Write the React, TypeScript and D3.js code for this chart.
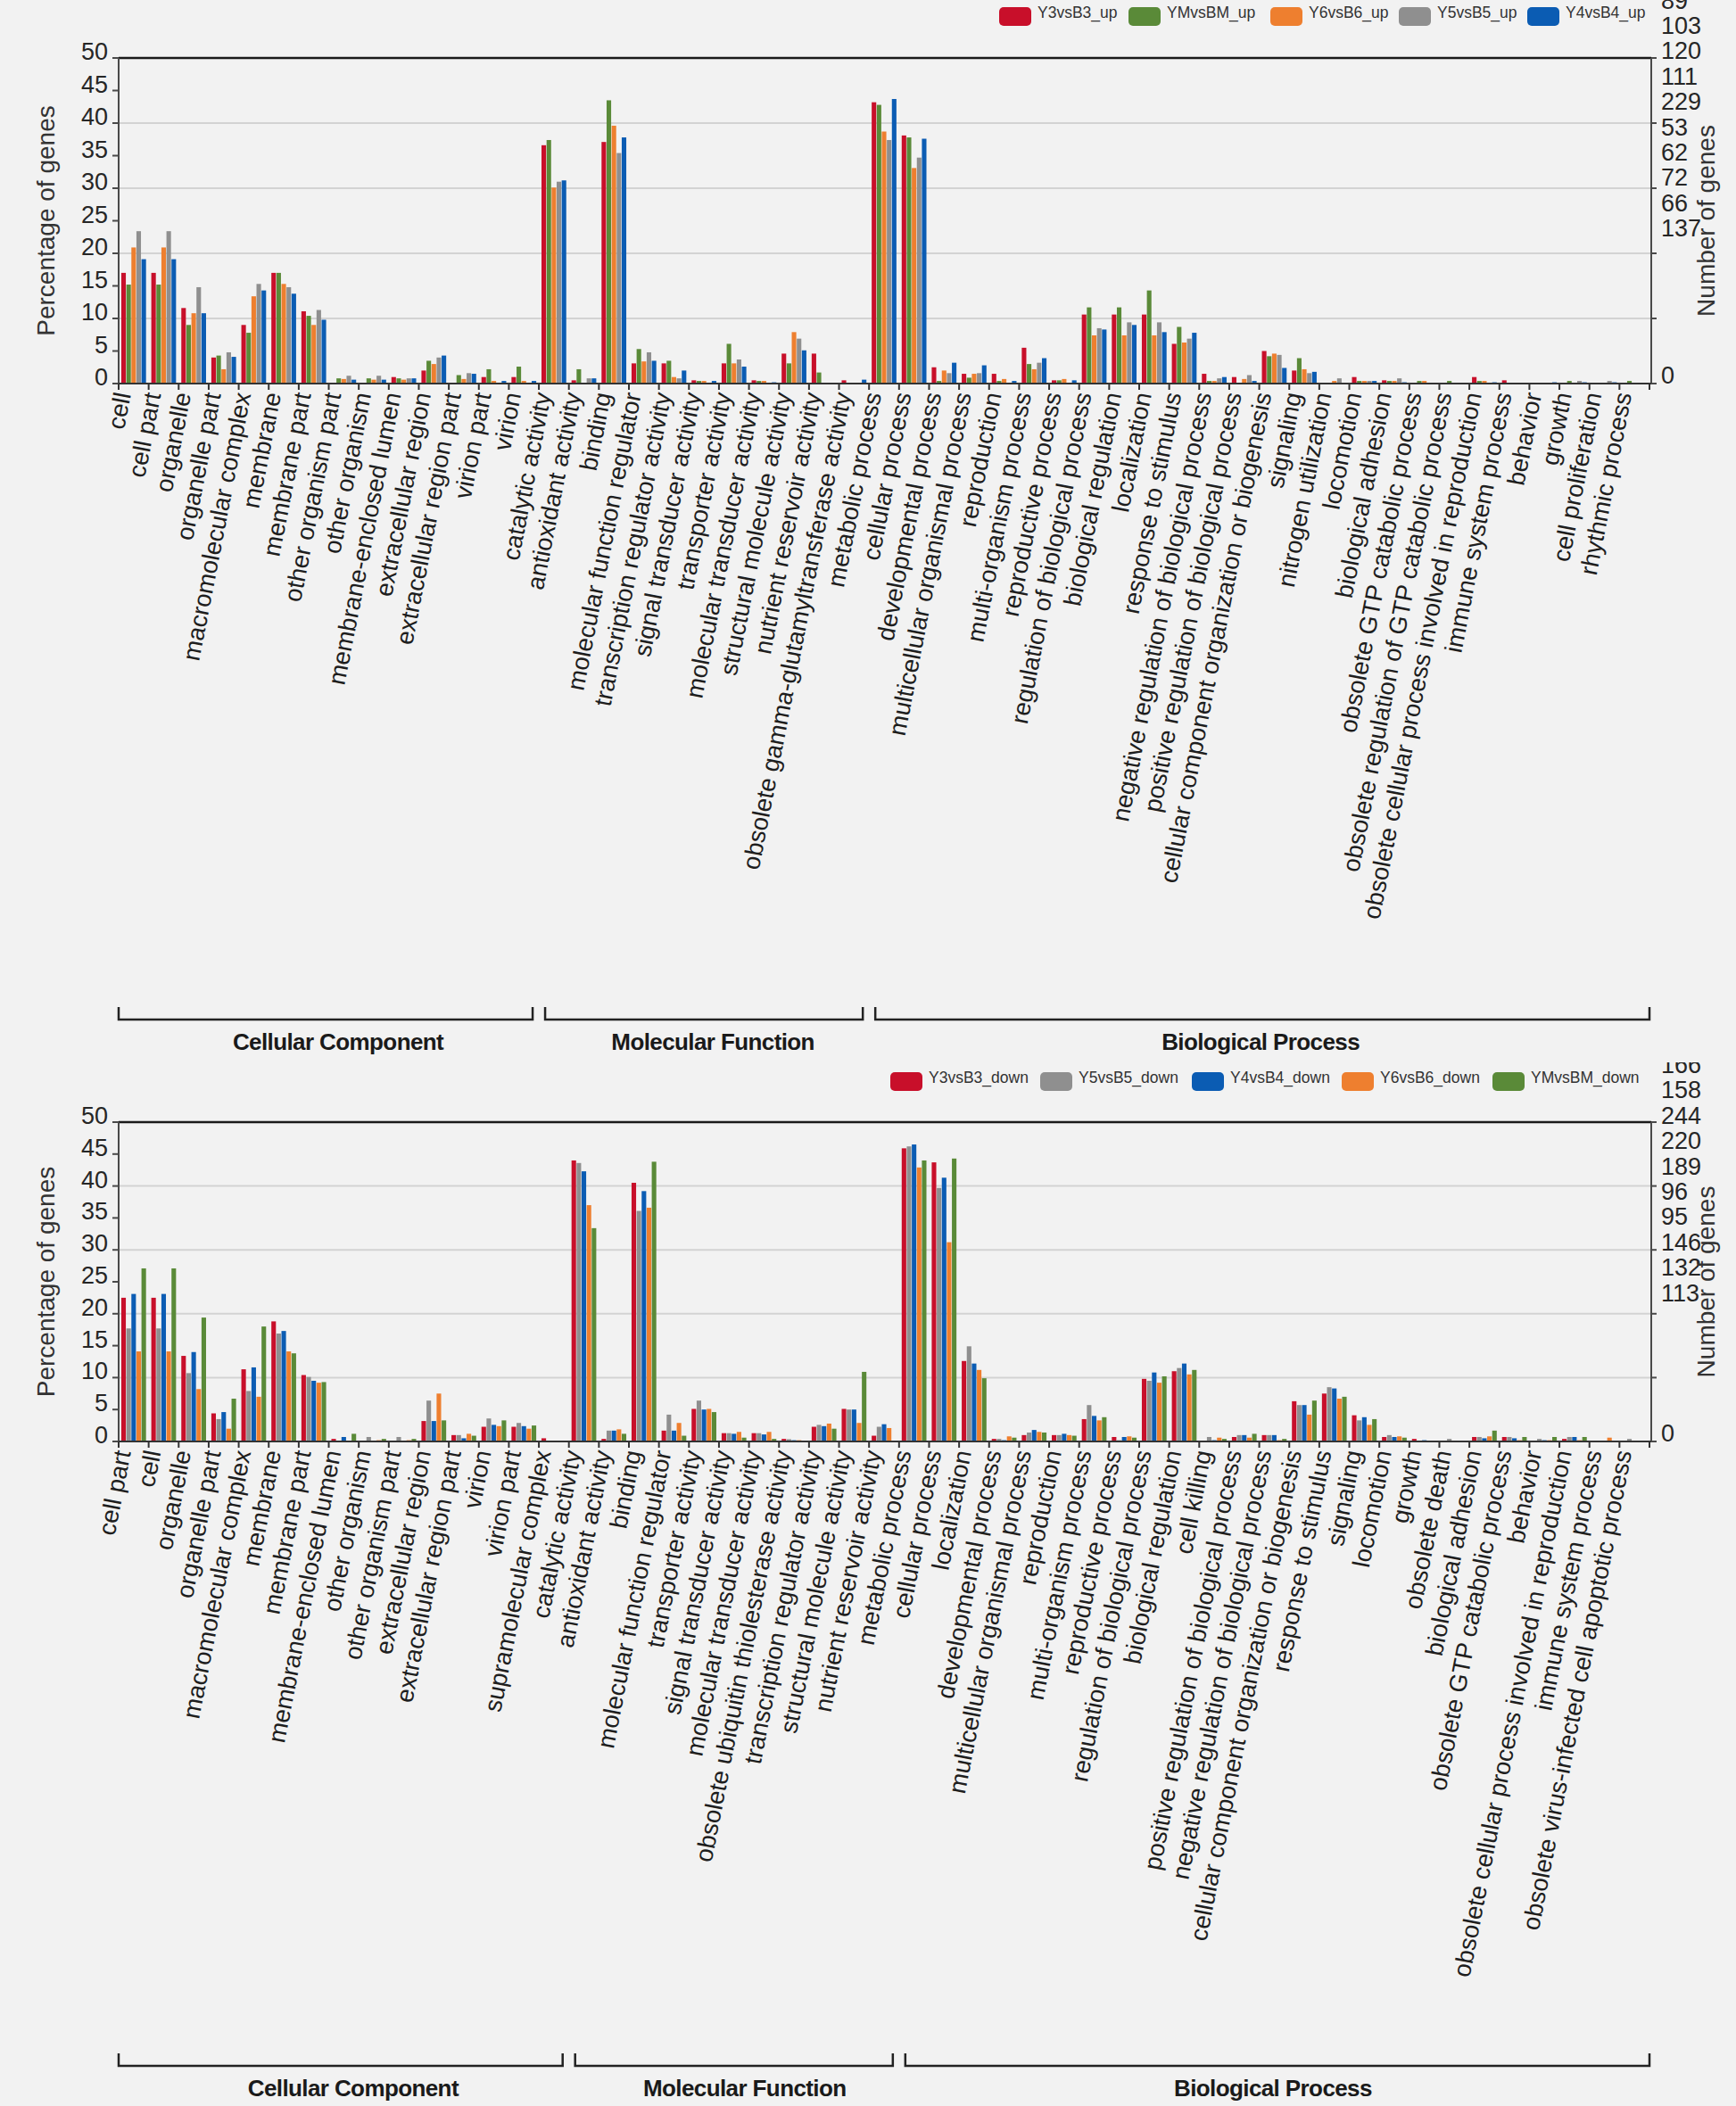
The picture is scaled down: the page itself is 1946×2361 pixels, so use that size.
import React from 'react';
import * as d3 from 'd3';

// ---- upper chart (up-regulated) ----
const upCategories = [
  'cell', 'cell part', 'organelle', 'organelle part', 'macromolecular complex', 'membrane',
  'membrane part', 'other organism part', 'other organism', 'membrane-enclosed lumen',
  'extracellular region', 'extracellular region part', 'virion part', 'virion',
  'catalytic activity', 'antioxidant activity', 'binding', 'molecular function regulator',
  'transcription regulator activity', 'signal transducer activity', 'transporter activity',
  'molecular transducer activity', 'structural molecule activity', 'nutrient reservoir activity',
  'obsolete gamma-glutamyltransferase activity',
  'metabolic process', 'cellular process', 'developmental process', 'multicellular organismal process',
  'reproduction', 'multi-organism process', 'reproductive process', 'regulation of biological process',
  'biological regulation', 'localization', 'response to stimulus',
  'negative regulation of biological process', 'positive regulation of biological process',
  'cellular component organization or biogenesis', 'signaling', 'nitrogen utilization', 'locomotion',
  'biological adhesion', 'obsolete GTP catabolic process', 'obsolete regulation of GTP catabolic process',
  'obsolete cellular process involved in reproduction', 'immune system process', 'behavior', 'growth',
  'cell proliferation', 'rhythmic process',
];
const upNames = ['Y3vsB3_up', 'YMvsBM_up', 'Y6vsB6_up', 'Y5vsB5_up', 'Y4vsB4_up'];
const y3vsB3Up = [17.0, 17.0, 11.6, 4.0, 9.0, 17.0, 11.1, 0, 0, 1.0, 2.0, 0, 1.0, 1.0,
  36.6, 0.5, 37.1, 3.1, 3.1, 0.5, 3.1, 0.5, 4.6, 4.6, 0.5,
  43.2, 38.1, 2.5, 1.5, 1.5, 5.5, 0.5, 10.6, 10.6, 10.6, 6.1, 1.5, 1.0, 5.0, 2.0, 0, 1.0, 0.5, 0, 0, 1.0, 0.5, 0, 0, 0, 0];
const ymvsBMUp = [15.2, 15.2, 9.0, 4.3, 7.8, 17.0, 10.4, 0.8, 0.8, 0.8, 3.5, 1.3, 2.2, 2.6,
  37.4, 2.2, 43.5, 5.3, 3.5, 0.4, 6.1, 0.4, 3.1, 1.7, 0,
  42.8, 37.8, 0.4, 0.9, 0.4, 3.0, 0.5, 11.7, 11.7, 14.3, 8.7, 0.4, 0, 4.2, 3.9, 0, 0.4, 0.4, 0.4, 0.4, 0.4, 0, 0, 0.4, 0, 0.4];
const y6vsB6Up = [20.9, 20.9, 10.8, 2.2, 13.4, 15.3, 9.0, 0.7, 0.6, 0.6, 3.0, 0.7, 0.4, 0.4,
  30.1, 0, 39.6, 3.4, 1.0, 0.4, 3.1, 0.4, 7.9, 0, 0,
  38.7, 33.1, 2.0, 1.5, 0.7, 2.2, 0.7, 7.4, 7.4, 7.4, 6.3, 0.4, 0.7, 4.6, 2.2, 0.4, 0.4, 0.4, 0.4, 0, 0.4, 0, 0, 0, 0, 0];
const y5vsB5Up = [23.4, 23.4, 14.8, 4.8, 15.3, 14.8, 11.3, 1.2, 1.2, 0.8, 4.0, 1.6, 0, 0,
  31.0, 0.8, 35.4, 4.8, 0.8, 0, 3.7, 0, 6.9, 0, 0,
  37.4, 34.7, 1.6, 1.6, 0, 3.2, 0, 8.5, 9.4, 9.4, 6.9, 0.8, 1.3, 4.4, 1.6, 0.8, 0.4, 0.8, 0, 0, 0, 0, 0, 0.4, 0.4, 0];
const y4vsB4Up = [19.1, 19.1, 10.8, 4.1, 14.3, 13.8, 9.8, 0.6, 0.6, 0.8, 4.3, 1.5, 0.4, 0.4,
  31.2, 0.8, 37.8, 3.5, 2.0, 0.4, 2.6, 0.2, 5.1, 0.1, 0.6,
  43.7, 37.6, 3.2, 2.8, 0.4, 3.9, 0.5, 8.3, 9.0, 7.9, 7.8, 1.0, 0.4, 2.4, 1.8, 0, 0.4, 0.2, 0, 0, 0.2, 0, 0.2, 0.2, 0.2, 0];
const upCountLabels = ['89', '103', '120', '111', '229', '53', '62', '72', '66', '137'];
const upGroupSizes = [14, 11, 26];

// ---- lower chart (down-regulated) ----
const downCategories = [
  'cell part', 'cell', 'organelle', 'organelle part', 'macromolecular complex', 'membrane',
  'membrane part', 'membrane-enclosed lumen', 'other organism', 'other organism part',
  'extracellular region', 'extracellular region part', 'virion', 'virion part', 'supramolecular complex',
  'catalytic activity', 'antioxidant activity', 'binding', 'molecular function regulator',
  'transporter activity', 'signal transducer activity', 'molecular transducer activity',
  'obsolete ubiquitin thiolesterase activity', 'transcription regulator activity',
  'structural molecule activity', 'nutrient reservoir activity',
  'metabolic process', 'cellular process', 'localization', 'developmental process',
  'multicellular organismal process', 'reproduction', 'multi-organism process', 'reproductive process',
  'regulation of biological process', 'biological regulation', 'cell killing',
  'positive regulation of biological process', 'negative regulation of biological process',
  'cellular component organization or biogenesis', 'response to stimulus', 'signaling', 'locomotion',
  'growth', 'obsolete death', 'biological adhesion', 'obsolete GTP catabolic process', 'behavior',
  'obsolete cellular process involved in reproduction', 'immune system process',
  'obsolete virus-infected cell apoptotic process',
];
const downNames = ['Y3vsB3_down', 'Y5vsB5_down', 'Y4vsB4_down', 'Y6vsB6_down', 'YMvsBM_down'];
const y3vsB3Down = [22.5, 22.5, 13.4, 4.4, 11.3, 18.8, 10.4, 0.4, 0, 0, 3.2, 1.0, 2.3, 2.3, 0.5,
  44.0, 0.4, 40.5, 1.7, 5.1, 1.3, 1.3, 0.4, 2.3, 5.1, 0.9,
  45.9, 43.7, 12.6, 0.4, 1.0, 1.0, 3.5, 0.7, 9.8, 11.0, 0, 0.7, 1.0, 6.3, 7.5, 4.1, 0.7, 0.4, 0, 0.7, 0.7, 0, 0.4, 0, 0];
const y5vsB5Down = [17.7, 17.7, 10.7, 3.5, 7.9, 16.9, 10.1, 0, 0.7, 0.7, 6.4, 1.0, 3.6, 2.9, 0,
  43.6, 1.7, 36.1, 4.2, 6.4, 1.3, 1.3, 0.35, 2.6, 5.0, 2.3,
  46.2, 39.7, 14.9, 0.4, 1.4, 1.0, 5.7, 0.2, 9.5, 11.5, 0.7, 1.0, 1.0, 5.7, 8.5, 3.3, 1.0, 0, 0.4, 0.7, 0.7, 0.4, 0.7, 0, 0.4];
const y4vsB4Down = [23.1, 23.1, 14.0, 4.6, 11.6, 17.3, 9.5, 0.7, 0, 0, 3.2, 0.5, 2.6, 2.4, 0,
  42.3, 1.7, 39.2, 1.7, 5.0, 1.2, 1.1, 0.2, 2.4, 5.0, 2.7,
  46.5, 41.3, 12.2, 0.2, 1.8, 1.2, 4.0, 0.7, 10.8, 12.2, 0.2, 1.0, 1.0, 5.7, 8.3, 3.8, 0.7, 0.2, 0, 0.5, 0.5, 0.2, 0.7, 0, 0];
const y6vsB6Down = [14.1, 14.1, 8.2, 2.0, 7.0, 14.1, 9.2, 0, 0.2, 0.2, 7.5, 1.2, 2.4, 2.0, 0,
  37.0, 1.9, 36.6, 2.9, 5.1, 1.5, 1.5, 0.2, 2.8, 2.9, 2.1,
  42.9, 31.2, 11.2, 0.8, 1.5, 1.0, 3.3, 0.8, 9.2, 10.5, 0.6, 0.6, 0.2, 4.2, 6.7, 2.6, 0.8, 0, 0, 0.8, 0.2, 0.2, 0.2, 0.6, 0];
const ymvsBMDown = [27.1, 27.1, 19.4, 6.7, 18.0, 13.8, 9.3, 1.2, 0.4, 0.4, 3.3, 0.9, 3.3, 2.5, 0,
  33.4, 1.2, 43.8, 0.9, 4.6, 0.6, 0.4, 0, 2.0, 10.9, 0,
  44.0, 44.3, 9.9, 0.6, 1.4, 0.9, 3.8, 0.6, 10.2, 11.2, 0.4, 1.2, 0.4, 6.4, 7.0, 3.5, 0.6, 0, 0, 1.7, 0.7, 0.7, 0.7, 0, 0];
const downCountLabels = ['166', '158', '244', '220', '189', '96', '95', '146', '132', '113'];
const downGroupSizes = [15, 11, 25];

const groupNames = ['Cellular Component', 'Molecular Function', 'Biological Process'];
const percentTicks = [0, 5, 10, 15, 20, 25, 30, 35, 40, 45, 50];
const gridTicks = [10, 20, 30, 40];

// colours per comparison
const C = {
  Y3: '#c80f2a', YM: '#5a8a38', Y6: '#ee7f2f', Y5: '#8f8f8f', Y4: '#0b5cb3',
};

const W = 1946;
const H = 2361;
const X_LEFT = 133;
const X_RIGHT = 1851;
const FONT = '"Liberation Sans", Arial, Helvetica, sans-serif';
const INK = '#262626';

type PanelProps = {
  id: string;
  categories: string[];
  names: string[];
  values: number[][];
  colors: string[];
  countLabels: string[];
  groupSizes: number[];
  top: number;
  bottom: number;
  legendY: number;
  legendX: number[];
  countY0: number;
  clipTop: number;
  bracketY: number;
  groupTextY: number;
  groupOffsets: number[];
};

function Panel(p: PanelProps) {
  const n = p.categories.length;
  const x0 = d3.scaleBand<number>().domain(d3.range(n)).range([X_LEFT, X_RIGHT - 2])
    .paddingInner(0.176).paddingOuter(0.088);
  const x1 = d3.scaleBand<number>().domain(d3.range(p.names.length))
    .range([0, x0.bandwidth()]).paddingInner(0.1);
  const y = d3.scaleLinear().domain([0, 50]).range([p.bottom, p.top]);
  const step = x0.step();
  const boundary = (k: number) => X_LEFT + k * step;

  const cum = d3.cumsum(p.groupSizes);
  const starts = [0, ...Array.from(cum).slice(0, -1)];
  const midY = (p.top + p.bottom) / 2;

  return (
    <g>
      <defs>
        <clipPath id={`clip-${p.id}`}>
          <rect x={0} y={p.clipTop} width={W} height={p.bottom - p.clipTop} />
        </clipPath>
      </defs>

      {/* legend */}
      {p.names.map((name, i) => (
        <g key={name} transform={`translate(${p.legendX[i]},${p.legendY})`}>
          <rect width={36} height={21} rx={5} fill={p.colors[i]} />
          <text x={43} y={12} fontSize={17.5} fill="#333" fontFamily={FONT}>{name}</text>
        </g>
      ))}

      {/* grid */}
      {gridTicks.map(t => (
        <line key={t} x1={X_LEFT} x2={X_RIGHT} y1={y(t)} y2={y(t)} stroke="#d3d3d3" strokeWidth={2} />
      ))}
      <line x1={X_LEFT} x2={X_RIGHT} y1={y(50)} y2={y(50)} stroke="#1a1a1a" strokeWidth={2.5} />

      {/* bars */}
      {p.values.map((vals, s) => (
        <g key={p.names[s]} fill={p.colors[s]}>
          {vals.map((v, i) => v > 0 ? (
            <rect key={i} x={(x0(i) as number) + (x1(s) as number)} y={y(v)}
              width={x1.bandwidth()} height={y(0) - y(v)} />
          ) : null)}
        </g>
      ))}

      {/* axes */}
      <line x1={X_LEFT} x2={X_LEFT} y1={y(50)} y2={y(0)} stroke="#4a4a4a" strokeWidth={2} />
      <line x1={X_RIGHT} x2={X_RIGHT} y1={y(50)} y2={y(0)} stroke="#4a4a4a" strokeWidth={2} />
      <line x1={X_LEFT} x2={X_RIGHT} y1={y(0)} y2={y(0)} stroke="#333" strokeWidth={2} />
      {percentTicks.map(t => (
        <g key={t}>
          <line x1={X_LEFT - 7} x2={X_LEFT} y1={y(t)} y2={y(t)} stroke="#4a4a4a" strokeWidth={2} />
          <text x={121} y={y(t) + 2} textAnchor="end" fontSize={27} fill={INK} fontFamily={FONT}>{t}</text>
        </g>
      ))}
      {percentTicks.filter(t => t % 10 === 0).map(t => (
        <line key={t} x1={X_RIGHT} x2={X_RIGHT + 6} y1={y(t)} y2={y(t)} stroke="#4a4a4a" strokeWidth={2} />
      ))}
      {d3.range(n + 1).map(k => (
        <line key={k} x1={boundary(k)} x2={boundary(k)} y1={y(0)} y2={y(0) + 7} stroke="#333" strokeWidth={2} />
      ))}

      {/* right-hand stacked counts */}
      <g clipPath={`url(#clip-${p.id})`}>
        {p.countLabels.map((c, i) => (
          <text key={i} x={1862} y={p.countY0 + i * 28.4} fontSize={27} fill={INK} fontFamily={FONT}>{c}</text>
        ))}
      </g>
      <text x={1862} y={y(0)} fontSize={27} fill={INK} fontFamily={FONT}>0</text>
      <text transform={`translate(1912,${midY}) rotate(-90)`} textAnchor="middle"
        dy="0.35em" fontSize={28} fill="#333" fontFamily={FONT}>Number of genes</text>
      <text transform={`translate(51,${midY}) rotate(-90)`} textAnchor="middle"
        dy="0.35em" fontSize={28} fill="#333" fontFamily={FONT}>Percentage of genes</text>

      {/* category labels */}
      {p.categories.map((c, i) => {
        const cx = (x0(i) as number) + x0.bandwidth() / 2 - 3;
        const cy = y(0) + 12;
        return (
          <text key={i} x={cx} y={cy} transform={`rotate(-79,${cx},${cy})`} textAnchor="end"
            fontSize={27.5} fill="#1e1e1e" fontFamily={FONT}>{c}</text>
        );
      })}

      {/* GO category brackets */}
      {groupNames.map((g, gi) => {
        const l = boundary(starts[gi]) + (gi === 0 ? 0 : 7);
        const r = boundary(cum[gi]) - (gi === groupNames.length - 1 ? 0 : 7);
        const b = p.bracketY;
        return (
          <g key={g}>
            <path d={`M${l},${b - 14}V${b}H${r}V${b - 14}`} fill="none" stroke="#222" strokeWidth={2.5} />
            <text x={(l + r) / 2 + p.groupOffsets[gi]} y={p.groupTextY} textAnchor="middle" fontSize={26}
              fontWeight="bold" fill="#1a1a1a" fontFamily={FONT} letterSpacing={-0.6}>{g}</text>
          </g>
        );
      })}
    </g>
  );
}

export default function App() {
  return (
    <div>
      <style>{'body{margin:0;background:#f2f2f2}'}</style>
      <svg width={W} height={H} viewBox={`0 0 ${W} ${H}`} style={{ display: 'block' }}>
        <rect width={W} height={H} fill="#f2f2f2" />
        <Panel
          id="up"
          categories={upCategories}
          names={upNames}
          values={[y3vsB3Up, ymvsBMUp, y6vsB6Up, y5vsB5Up, y4vsB4Up]}
          colors={[C.Y3, C.YM, C.Y6, C.Y5, C.Y4]}
          countLabels={upCountLabels}
          groupSizes={upGroupSizes}
          top={65}
          bottom={430}
          legendY={8}
          legendX={[1120, 1265, 1424, 1568, 1712]}
          countY0={9.5}
          clipTop={0}
          bracketY={1143}
          groupTextY={1177}
          groupOffsets={[14, 10, -2]}
        />
        <Panel
          id="down"
          categories={downCategories}
          names={downNames}
          values={[y3vsB3Down, y5vsB5Down, y4vsB4Down, y6vsB6Down, ymvsBMDown]}
          colors={[C.Y3, C.Y5, C.Y4, C.Y6, C.YM]}
          countLabels={downCountLabels}
          groupSizes={downGroupSizes}
          top={1258}
          bottom={1616}
          legendY={1202}
          legendX={[998, 1166, 1336, 1504, 1673]}
          countY0={1203}
          clipTop={1191}
          bracketY={2316}
          groupTextY={2350}
          groupOffsets={[14, 12, -5]}
        />
      </svg>
    </div>
  );
}
